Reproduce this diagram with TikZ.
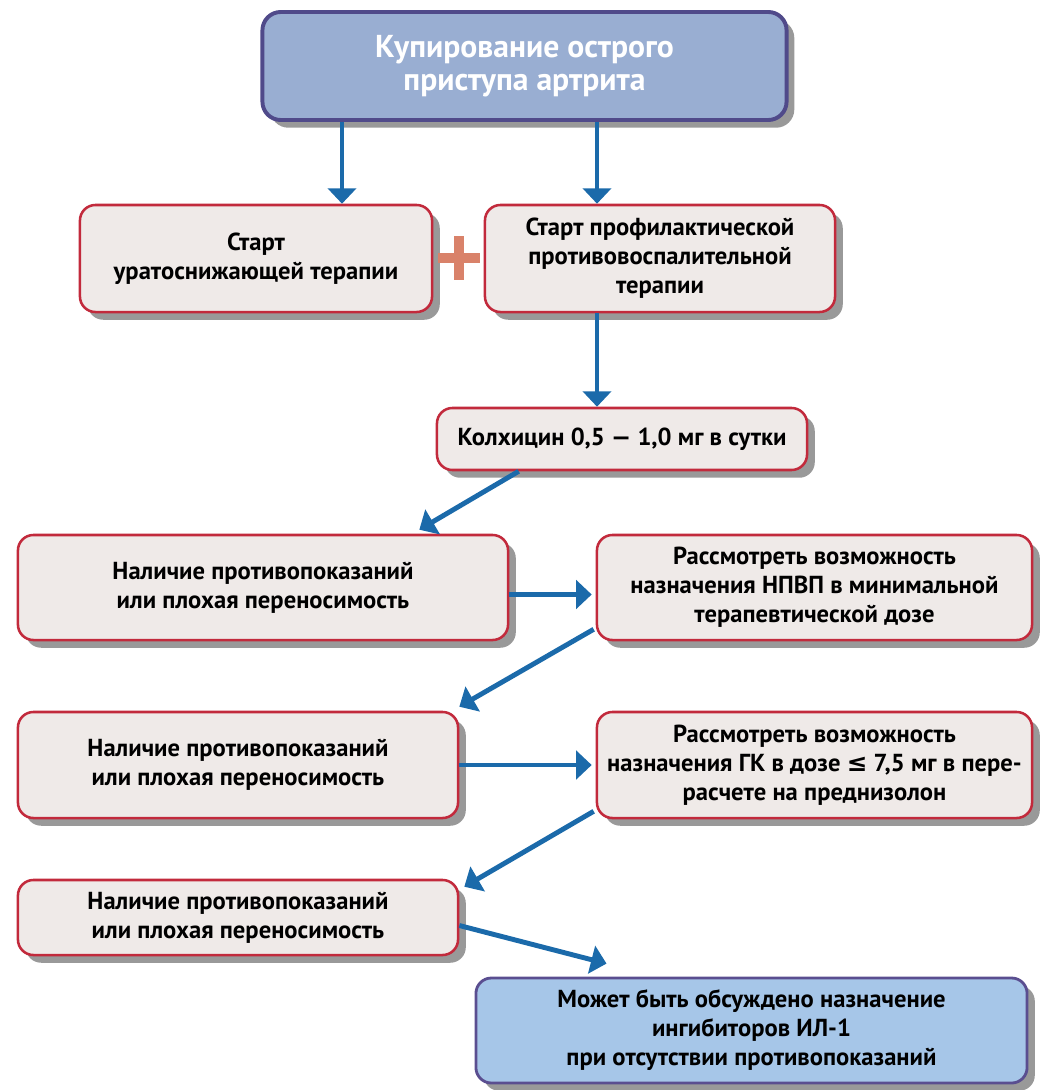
\documentclass[tikz,border=0pt]{standalone}
\usepackage{fontspec}
\setmainfont{PT Sans}
\newfontfamily\leqfont{DejaVu Sans}
\usepackage{tikz}
\usetikzlibrary{arrows.meta,calc,shadows}
\definecolor{topfill}{HTML}{99AED2}
\definecolor{topdraw}{HTML}{504A8A}
\definecolor{boxfill}{HTML}{EFEAE8}
\definecolor{boxdraw}{HTML}{C22A3C}
\definecolor{endfill}{HTML}{A6C6E8}
\definecolor{enddraw}{HTML}{5A4E90}
\definecolor{arrblue}{HTML}{1B6AAA}
\definecolor{plusred}{HTML}{D9826A}

\begin{document}
\begin{tikzpicture}[x=0.025cm,y=-0.025cm]
\tikzstyle{topbox}=[rectangle,rounded corners=13pt,fill=topfill,draw=topdraw,line width=2.8pt,text=white,align=center,font=\fontsize{22.5}{23.5}\selectfont\bfseries,drop shadow={shadow xshift=5.5pt,shadow yshift=-5.5pt,fill=black!40,opacity=1}]
\tikzstyle{stepbox}=[rectangle,rounded corners=11pt,fill=boxfill,draw=boxdraw,line width=1.8pt,align=center,font=\fontsize{17.5}{20.6}\selectfont\bfseries,drop shadow={shadow xshift=5.5pt,shadow yshift=-5.5pt,fill=black!40,opacity=1}]
\tikzstyle{endbox}=[rectangle,rounded corners=11pt,fill=endfill,draw=enddraw,line width=2pt,align=center,font=\fontsize{17.5}{20.6}\selectfont\bfseries,drop shadow={shadow xshift=5.5pt,shadow yshift=-5.5pt,fill=black!40,opacity=1}]
\tikzstyle{arr}=[->,>={Triangle[width=20pt,length=11pt]},draw=arrblue,fill=arrblue,line width=3.5pt]

\useasboundingbox (0,0) rectangle (1041,1090);

%%%%%%%%%%%%%%%%%%%%%%%%%%%%%%%%%%%%%%%%%%%%%%%%%%%%%%%%%%%%%%%%%%%%%%%%
%top
\node[topbox,minimum width=13.1cm,minimum height=2.7cm] (kupir) at (524.5,66) {Купирование острого\\приступа артрита};

%%%%%%%%%%%%%%%%%%%%%%%%%%%%%%%%%%%%%%%%%%%%%%%%%%%%%%%%%%%%%%%%%%%%%%%%
%start
\node[stepbox,minimum width=8.8cm,minimum height=2.675cm] (uratst) at (256,258.5) {Старт\\уратоснижающей терапии};
\node[stepbox,minimum width=8.75cm,minimum height=2.675cm] (profil) at (660,258.5) {Старт профилактической\\противовоспалительной\\терапии};
%plus
\coordinate (plus) at (459,258);
\draw[plusred,line width=7pt] ($(plus)+(-21,0)$) -- ($(plus)+(21,0)$);
\draw[plusred,line width=7pt] ($(plus)+(0,-22)$) -- ($(plus)+(0,22)$);

%%%%%%%%%%%%%%%%%%%%%%%%%%%%%%%%%%%%%%%%%%%%%%%%%%%%%%%%%%%%%%%%%%%%%%%%
%colchicine
\node[stepbox,minimum width=9.25cm,minimum height=1.55cm] (kolh) at (622,439) {Колхицин 0,5 — 1,0 мг в сутки};

%%%%%%%%%%%%%%%%%%%%%%%%%%%%%%%%%%%%%%%%%%%%%%%%%%%%%%%%%%%%%%%%%%%%%%%%
%contraindications
%1
\node[stepbox,minimum width=12.25cm,minimum height=2.625cm] (protiv1) at (263,587.5) {Наличие противопоказаний\\или плохая переносимость};
\node[stepbox,minimum width=10.875cm,minimum height=2.625cm] (nsaid) at (814.5,587.5) {Рассмотреть возможность\\назначения НПВП в минимальной\\терапевтической дозе};
%2
\node[stepbox,minimum width=11cm,minimum height=2.65cm] (protiv2) at (238,765) {Наличие противопоказаний\\или плохая переносимость};
\node[stepbox,minimum width=10.875cm,minimum height=2.65cm] (gk) at (814.5,765) {Рассмотреть возможность\\назначения ГК в дозе {\leqfont ≤} 7,5 мг в пере-\\расчете на преднизолон};
%3
\node[stepbox,minimum width=11cm,minimum height=1.875cm] (protiv3) at (238,917.5) {Наличие противопоказаний\\или плохая переносимость};

%%%%%%%%%%%%%%%%%%%%%%%%%%%%%%%%%%%%%%%%%%%%%%%%%%%%%%%%%%%%%%%%%%%%%%%%
%IL-1
\node[endbox,minimum width=13.775cm,minimum height=2.625cm] (il) at (751.5,1030.5) {Может быть обсуждено назначение\\ингибиторов ИЛ-1\\при отсутствии противопоказаний};

%%%%%%%%%%%%%%%%%%%%%%%%%%%%%%%%%%%%%%%%%%%%%%%%%%%%%%%%%%%%%%
%ARROWS
\coordinate (xa) at (342,0);
\coordinate (xb) at (597,0);

% top->start
\draw[arr] (kupir.south -| xa) -- (uratst.north -| xa);
\draw[arr] (kupir.south -| xb) -- (profil.north -| xb);
% start->colchicine
\draw[arr] (profil.south -| xb) -- (kolh.north -| xb);
% colchicine->1
\draw[arr] ($(kolh.south west)+(83,0)$) -- ($(protiv1.north east)+(-90,-4)$);
%1->2
\draw[arr] ($(protiv1.east)+(0,7)$) -- ($(nsaid.west)+(-4,7)$);
\draw[arr] ($(nsaid.south west)+(-2,-12)$) -- ($(protiv2.north east)+(0,-4)$);
%2->3
\draw[arr] (protiv2.east) -- ($(gk.west)+(-4,0)$);
\draw[arr] ($(gk.south west)+(-2,-8)$) -- ($(protiv3.north east)+(5,8)$);
%3->IL-1
\draw[arr] ($(protiv3.east)+(0,8)$) -- ($(il.north west)+(132,-13)$);

\end{tikzpicture}
\end{document}
